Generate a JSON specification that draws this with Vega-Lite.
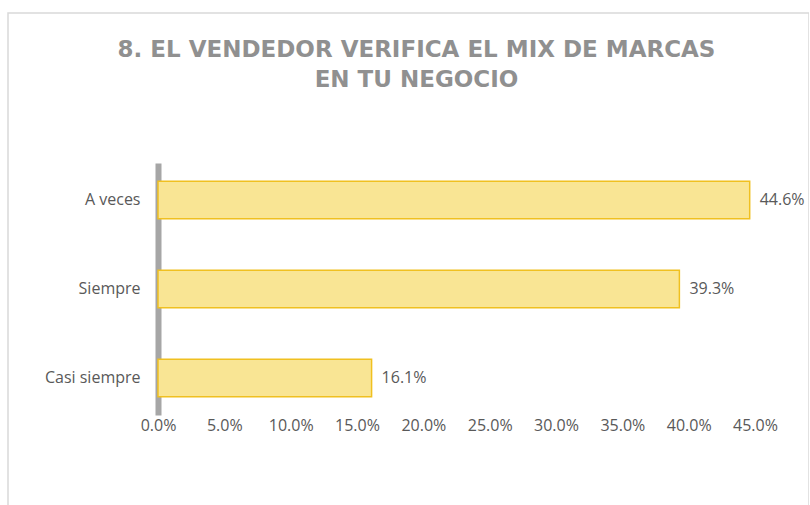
{
  "$schema": "https://vega.github.io/schema/vega-lite/v6.json",
  "width": 801,
  "height": 500,
  "autosize": {"type": "none"},
  "padding": {"left": 8, "top": 13, "right": 0, "bottom": 0},
  "background": "white",
  "config": {"view": {"stroke": "#D9D9D9", "strokeWidth": 1.5}, "font": "Open Sans"},
  "title": {
    "text": ["8.  EL VENDEDOR VERIFICA EL MIX DE MARCAS", "EN TU NEGOCIO"],
    "font": "DejaVu Sans",
    "fontSize": 23,
    "fontWeight": "bold",
    "color": "#909090",
    "anchor": "middle",
    "offset": -79,
    "lineHeight": 30,
    "dx": 8
  },
  "data": {
    "values": [
      {"respuesta": "A veces", "pct": 0.446},
      {"respuesta": "Siempre", "pct": 0.393},
      {"respuesta": "Casi siempre", "pct": 0.161}
    ]
  },
  "encoding": {
    "y": {
      "field": "respuesta",
      "type": "nominal",
      "sort": ["A veces", "Siempre", "Casi siempre"],
      "scale": {"range": [150, 402], "paddingInner": 0.58, "paddingOuter": 0.205},
      "axis": {
        "title": null,
        "offset": -150,
        "domainColor": "#A6A6A6",
        "domainWidth": 6,
        "ticks": false,
        "tickSize": 0,
        "labelPadding": 18,
        "labelFontSize": 16,
        "labelColor": "#595959",
        "labelFont": "Open Sans"
      }
    },
    "x": {
      "field": "pct",
      "type": "quantitative",
      "scale": {"domain": [0, 0.45], "range": [150, 747], "nice": false, "zero": true},
      "axis": {
        "title": null,
        "offset": -96,
        "domain": false,
        "ticks": false,
        "tickSize": 0,
        "grid": false,
        "labelPadding": 0,
        "labelFlush": false,
        "labelOverlap": false,
        "format": ".1%",
        "values": [0, 0.05, 0.1, 0.15, 0.2, 0.25, 0.3, 0.35, 0.4, 0.45],
        "labelFontSize": 16,
        "labelColor": "#595959",
        "labelFont": "Open Sans"
      }
    }
  },
  "layer": [
    {"mark": {"type": "bar", "fill": "#F9E594", "stroke": "#F0C020", "strokeWidth": 1.5}},
    {
      "mark": {"type": "text", "align": "left", "dx": 10, "fontSize": 16, "color": "#595959", "font": "Open Sans"},
      "encoding": {"text": {"field": "pct", "type": "quantitative", "format": ".1%"}}
    }
  ]
}
